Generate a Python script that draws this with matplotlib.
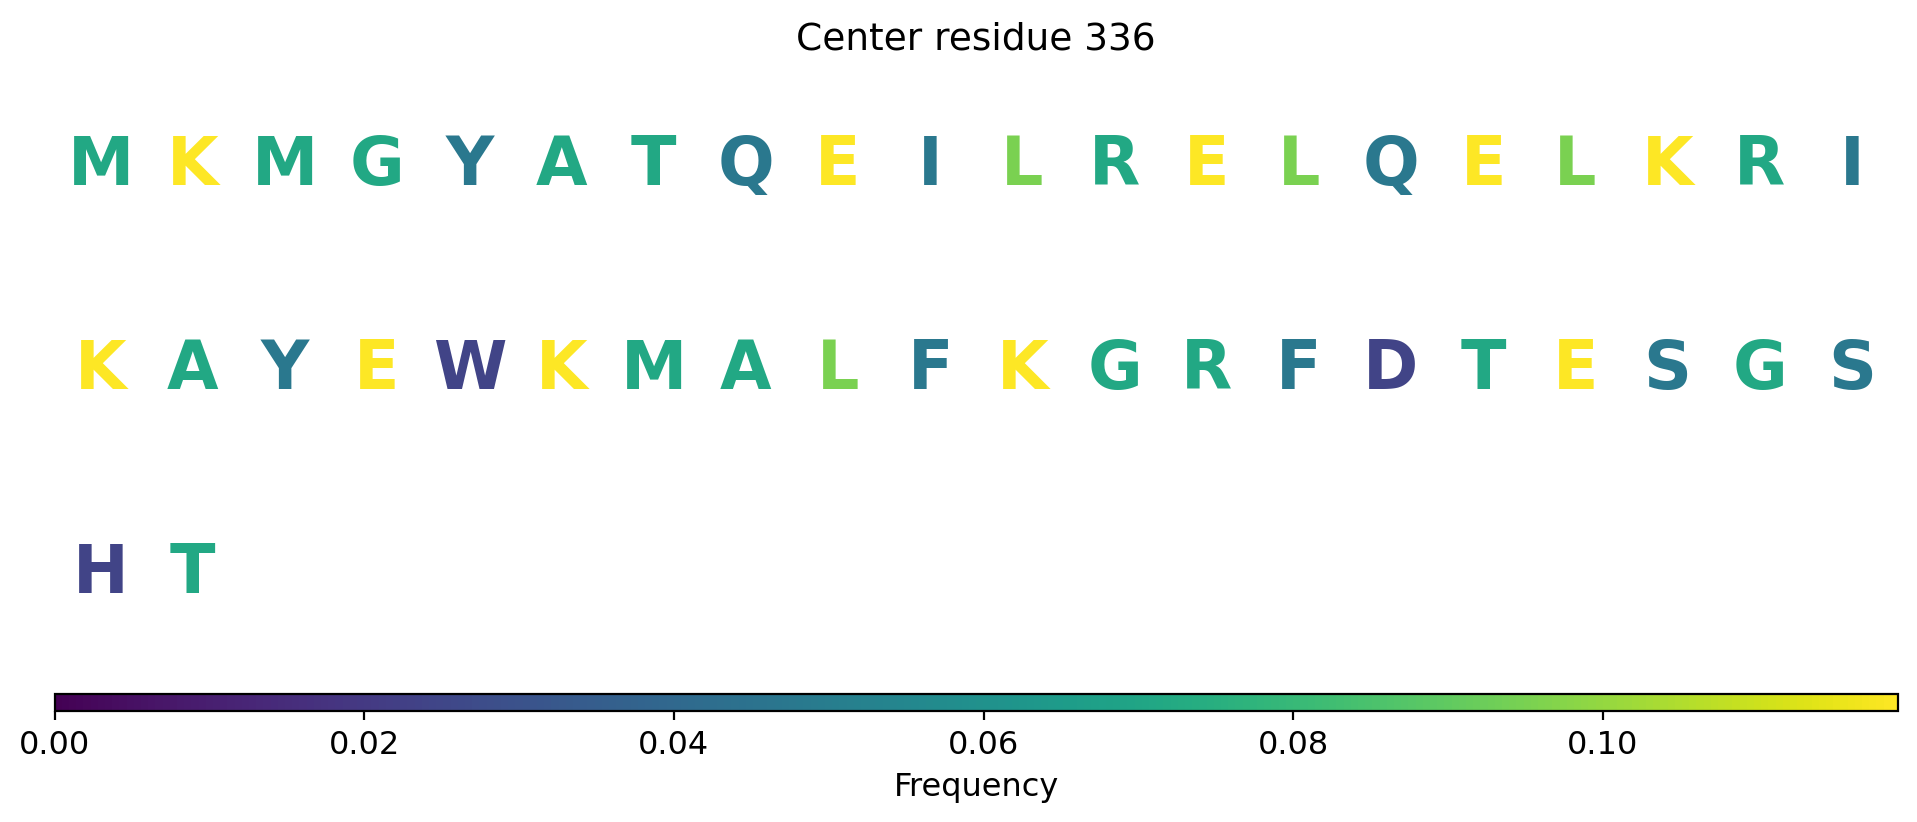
import matplotlib
matplotlib.use("Agg")
import matplotlib.pyplot as plt
from matplotlib import cm, colors

sequence = "MKMGYATQEILRELQELKRIKAYEWKMALFKGRFDTESGSHT"
center_residue = 336

amino_acids = ["E", "K", "L", "M", "A", "G", "T", "R", "Q", "I", "Y", "F", "S", "W", "D", "H"]
frequencies = [5/42, 5/42, 4/42, 3/42, 3/42, 3/42, 3/42, 3/42,
               2/42, 2/42, 2/42, 2/42, 2/42, 1/42, 1/42, 1/42]
freq_map = dict(zip(amino_acids, frequencies))

per_row = 20
W, H, DPI = 1917, 822, 200
fig = plt.figure(figsize=(W / DPI, H / DPI), dpi=DPI)

left = 54.5 / W
width = 1843.5 / W
row_px = 204.0
top_px = 166 - row_px / 2
ax_h = 3 * row_px
ax = fig.add_axes([left, 1 - (top_px + ax_h) / H, width, ax_h / H])
ax.set_xlim(-0.5, per_row - 0.5)
ax.set_ylim(-2.5, 0.5)
ax.axis("off")

cmap = plt.get_cmap("viridis")
norm = colors.Normalize(vmin=0, vmax=max(frequencies))

for i, aa in enumerate(sequence):
    ax.text(i % per_row, -(i // per_row), aa, ha="center", va="center",
            fontsize=24, fontweight="bold", color=cmap(norm(freq_map[aa])))

fig.text(left + width / 2, 1 - 50 / H, f"Center residue {center_residue}",
         ha="center", va="baseline", fontsize=13.5)

cax = fig.add_axes([left, 1 - 711 / H, width, 17 / H])
sm = cm.ScalarMappable(norm=norm, cmap=cmap)
cb = fig.colorbar(sm, cax=cax, orientation="horizontal")
cb.set_label("Frequency", fontsize=11.5)
cb.ax.tick_params(labelsize=11.5, length=3.2)

fig.savefig("out.png", dpi=DPI)
